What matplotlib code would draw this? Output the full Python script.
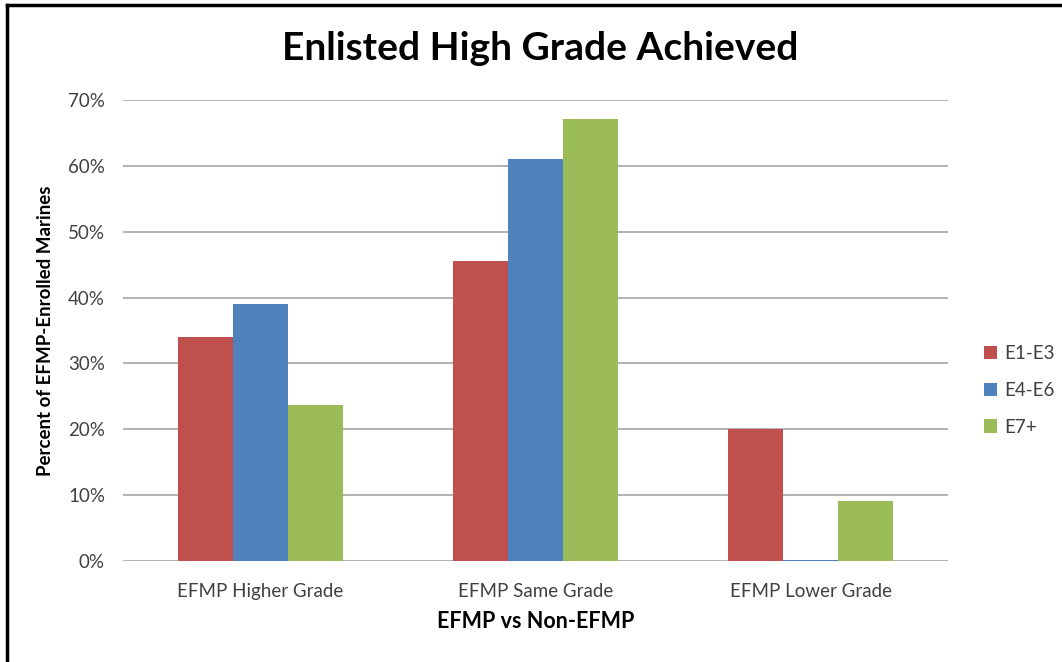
import matplotlib.pyplot as plt
from matplotlib.lines import Line2D
import numpy as np

categories = ["EFMP Higher Grade", "EFMP Same Grade", "EFMP Lower Grade"]
series_names = ["E1-E3", "E4-E6", "E7+"]
e1_e3 = [34.0, 45.5, 20.0]
e4_e6 = [39.0, 61.0, 0.2]
e7_plus = [23.7, 67.1, 9.1]
colors = ["#C0504D", "#4F81BD", "#9BBB59"]

plt.rcParams['font.family'] = ['Lato', 'DejaVu Sans']

fig = plt.figure(figsize=(10.62, 6.62), dpi=100)
ax = fig.add_axes([123 / 1062, 101 / 662, 825 / 1062, 461 / 662])

x = np.arange(len(categories))
w = 0.2
for i, (vals, name) in enumerate(zip([e1_e3, e4_e6, e7_plus], series_names)):
    ax.bar(x + (i - 1) * w, vals, w, color=colors[i], label=name, zorder=3)

ax.set_xlim(-0.5, 2.5)
ax.set_ylim(0, 70)
ax.set_yticks(range(0, 71, 10))
ax.set_yticklabels([f"{v}%" for v in range(0, 71, 10)])
ax.set_xticks(x)
ax.set_xticklabels(categories)
ax.tick_params(axis='both', length=0, labelsize=13.5, colors='#404040')
ax.tick_params(axis='x', pad=16)
ax.tick_params(axis='y', pad=13)
ax.grid(axis='y', color='#A6A6A6', linewidth=1.2, zorder=0)
for s in ax.spines.values():
    s.set_visible(False)

ax.set_ylabel("Percent of EFMP-Enrolled Marines", fontsize=13.5, fontweight='bold', labelpad=10)
ax.set_xlabel("EFMP vs Non-EFMP", fontsize=15.5, fontweight='bold', labelpad=8)
fig.text(540 / 1062, 1 - 48 / 662, "Enlisted High Grade Achieved", ha='center', va='center',
         fontsize=28, fontweight='bold')

leg = ax.legend(loc='center left', bbox_to_anchor=(1.035, 0.37), frameon=False, fontsize=13.5,
                handlelength=0.7, handleheight=0.7, handletextpad=0.35, labelspacing=1.05,
                borderaxespad=0)
for t in leg.get_texts():
    t.set_color('#404040')

# frame around the chart
fig.add_artist(Line2D([6.5 / 1062, 6.5 / 1062], [0, 1 - 5 / 662], color='black', lw=2.5))
fig.add_artist(Line2D([6.5 / 1062, 1], [1 - 5 / 662, 1 - 5 / 662], color='black', lw=2.5))

fig.savefig("out.png", dpi=100)
